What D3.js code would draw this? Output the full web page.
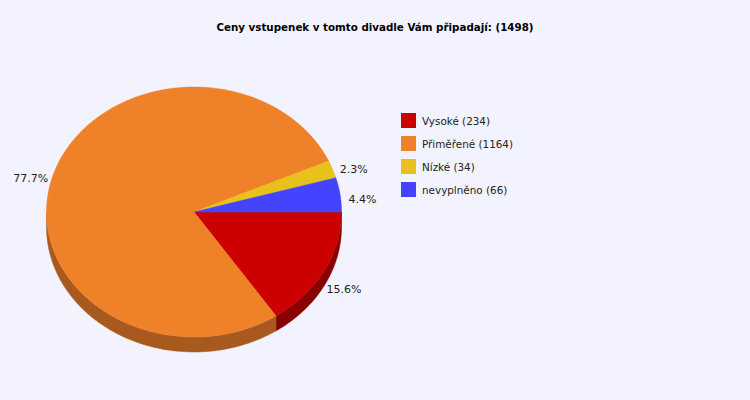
<!DOCTYPE html>
<html><head><meta charset="utf-8">
<script src="https://cdn.jsdelivr.net/npm/d3@7"></script>
<style>body{margin:0;background:#f3f3ff}svg{display:block}</style>
</head><body>
<svg id="c" width="750" height="400"></svg>
<script>
const title = "Ceny vstupenek v tomto divadle Vám připadají: (1498)";
const categories = ["Vysoké", "Přiměřené", "Nízké", "nevyplněno"];
const values = [234, 1164, 34, 66];
const colors = ["#cc0000", "#ef8129", "#e8c11c", "#4444ff"];
const sideColors = ["#880000", "#a85a1e", "#9a8012", "#2d2daa"];

const W = 750, H = 400;
const cx = 194, cy = 212, rx = 147.5, ry = 125, depth = 15;
const svg = d3.select("#c");
svg.append("rect").attr("width", W).attr("height", H).attr("fill", "#f3f3ff");

svg.append("text").attr("x", 375).attr("y", 31).attr("text-anchor", "middle")
  .attr("font-family", "DejaVu Sans").attr("font-size", 10.3).attr("font-weight", "bold")
  .attr("fill", "#000").text(title);

const total = d3.sum(values);
// angle measured clockwise from east (screen coords)
const pie = d3.pie().sort(null).startAngle(0).endAngle(2 * Math.PI)(values);
const pt = (a, h) => [cx + rx * Math.cos(a), cy + ry * Math.sin(a) + (h || 0)];

// side walls: only visible on the front half (0..PI)
const g = svg.append("g");
pie.forEach((d, i) => {
  const a0 = Math.max(d.startAngle, 0), a1 = Math.min(d.endAngle, Math.PI);
  if (a1 <= a0) return;
  const steps = Math.max(2, Math.ceil((a1 - a0) / 0.02));
  const angs = d3.range(steps + 1).map(k => a0 + (a1 - a0) * k / steps);
  const top = angs.map(a => pt(a, 0));
  const bot = angs.slice().reverse().map(a => pt(a, depth));
  g.append("path").attr("d", d3.line()(top.concat(bot)) + "Z")
    .attr("fill", sideColors[i]).attr("stroke", sideColors[i]).attr("stroke-width", 0.5);
});

// top faces
pie.forEach((d, i) => {
  const steps = Math.max(2, Math.ceil((d.endAngle - d.startAngle) / 0.02));
  const angs = d3.range(steps + 1).map(k => d.startAngle + (d.endAngle - d.startAngle) * k / steps);
  const p = [[cx, cy]].concat(angs.map(a => pt(a, 0)));
  g.append("path").attr("d", d3.line()(p) + "Z").attr("fill", colors[i])
    .attr("stroke", colors[i]).attr("stroke-width", 0.5);
});

// labels centred on an outer ellipse
const fmt = v => (v / total * 100).toFixed(1) + "%";
pie.forEach((d, i) => {
  const a = (d.startAngle + d.endAngle) / 2;
  const x = cx + (rx + 22.5) * Math.cos(a);
  const y = cy + depth / 2 + (ry + 23) * Math.sin(a);
  svg.append("text").attr("x", x).attr("y", y + 4)
    .attr("text-anchor", "middle")
    .attr("font-family", "DejaVu Sans").attr("font-size", 11).attr("fill", "#222")
    .text(fmt(d.value));
});

// legend
const lg = svg.append("g");
categories.forEach((c, i) => {
  const y = 113 + i * 23;
  lg.append("rect").attr("x", 401).attr("y", y).attr("width", 15).attr("height", 15).attr("fill", colors[i]);
  lg.append("text").attr("x", 422).attr("y", y + 12)
    .attr("font-family", "DejaVu Sans").attr("font-size", 10.4).attr("fill", "#222")
    .text(`${c} (${values[i]})`);
});
</script>
</body></html>
